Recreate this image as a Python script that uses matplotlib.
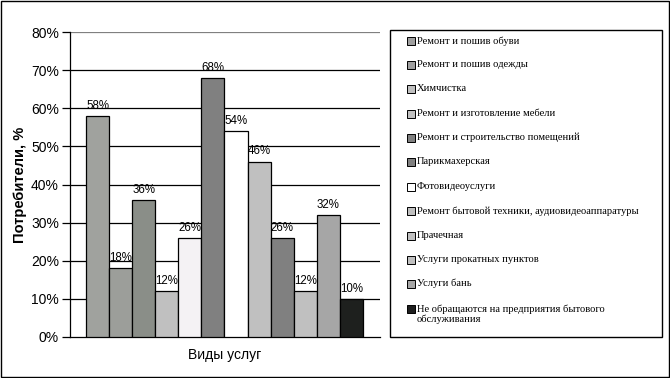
import matplotlib
matplotlib.use("Agg")
import matplotlib.pyplot as plt
from matplotlib.patches import Rectangle
import numpy as np

categories = [
    "Ремонт и пошив обуви",
    "Ремонт и пошив одежды",
    "Химчистка",
    "Ремонт и изготовление мебели",
    "Ремонт и строительство помещений",
    "Парикмахерская",
    "Фотовидеоуслуги",
    "Ремонт бытовой техники, аудиовидеоаппаратуры",
    "Прачечная",
    "Услуги прокатных пунктов",
    "Услуги бань",
    "Не обращаются на предприятия бытового\nобслуживания",
]
values = [58, 18, 36, 12, 26, 68, 54, 46, 26, 12, 32, 10]
bar_colors = ["#a0a29e", "#9c9e9a", "#8a8e88", "#c0c0c0", "#f4f2f4", "#808080",
              "#ffffff", "#c0c0c0", "#808080", "#c0c0c0", "#a6a6a6", "#1e201e"]
legend_colors = ["#a0a0a0", "#a0a0a0", "#c0c0c0", "#c0c0c0", "#808080", "#808080",
                 "#ffffff", "#c0c0c0", "#c0c0c0", "#c0c0c0", "#a6a6a6", "#1e1e1e"]
yticks = [0, 10, 20, 30, 40, 50, 60, 70, 80]

W, H = 670, 378
fig = plt.figure(figsize=(W / 100, H / 100), dpi=100)
fig.patch.set_facecolor("white")

def fx(px):
    return px / W

def fy(py):
    return 1 - py / H

ax = fig.add_axes([fx(70), fy(337), fx(380) - fx(70), fy(32) - fy(337)])
x = np.arange(len(values))
ax.bar(x, values, width=1.0, color=bar_colors, edgecolor="black", linewidth=0.9, zorder=3)
for xi, v in zip(x, values):
    ax.annotate(f"{v}%", (xi, v), xytext=(0, 3), textcoords="offset points",
                ha="center", va="bottom", fontsize=8.3, family="Liberation Sans", zorder=4)

ax.set_xlim(-0.5 - 16 / 23, len(values) - 0.5 + 17 / 23)
ax.set_ylim(0, 80)
ax.set_yticks(yticks)
ax.set_yticklabels([f"{t}%" for t in yticks], fontsize=10, family="Liberation Sans")
ax.set_xticks([])
ax.tick_params(axis="y", direction="out", length=6, width=0.9, pad=2)
for t in yticks[1:]:
    ax.axhline(t, color="black" if t < 80 else "#808080", linewidth=0.9, zorder=1)
for s in ["top", "right"]:
    ax.spines[s].set_visible(False)
ax.spines["left"].set_linewidth(0.9)
ax.spines["bottom"].set_linewidth(0.9)
ax.set_xlabel("Виды услуг", fontsize=10, family="Liberation Sans", labelpad=8)
ax.set_ylabel("Потребители, %", fontsize=10.5, family="Liberation Sans", fontweight="bold",
              labelpad=3)

# legend box
fig.patches.append(Rectangle((fx(390), fy(337)), fx(662) - fx(390), fy(30) - fy(337),
                             transform=fig.transFigure, facecolor="white",
                             edgecolor="black", linewidth=1.0))
ys = [41, 65, 89, 114, 138, 162, 187, 211, 236, 260, 284, 309]
for lab, col, yy in zip(categories, legend_colors, ys):
    fig.patches.append(Rectangle((fx(407), fy(yy + 4)), fx(8), 8 / H,
                                 transform=fig.transFigure, facecolor=col,
                                 edgecolor="black", linewidth=0.7))
    fig.text(fx(417), fy(yy - 5), lab, ha="left", va="top", fontsize=7.6,
             family="Liberation Serif", linespacing=1.2)

# outer border
fig.patches.append(Rectangle((0.001, 0.002), 0.997, 0.996, transform=fig.transFigure,
                             facecolor="none", edgecolor="black", linewidth=1.0))

fig.savefig("out.png", dpi=100)
